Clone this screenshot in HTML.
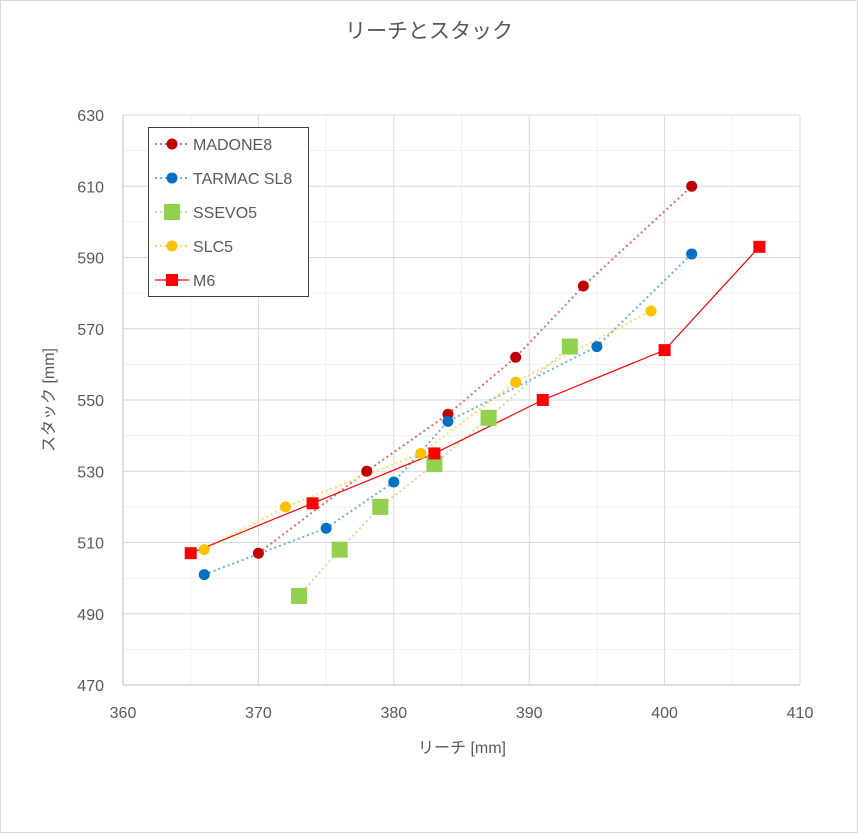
<!DOCTYPE html><html><head><meta charset="utf-8"><style>body{margin:0;background:#fff}svg{display:block}</style></head><body>
<svg id="s" width="858" height="833" xmlns="http://www.w3.org/2000/svg" font-family="Liberation Sans, 'Noto Sans CJK JP', sans-serif">
<rect x="0.5" y="0.5" width="857" height="832" fill="#fff" stroke="#d9d9d9"/>
<text x="429" y="38" font-size="21" fill="#595959" text-anchor="middle">リーチとスタック</text>
<text x="462" y="753" font-size="16" fill="#595959" text-anchor="middle">リーチ [mm]</text>
<text x="54" y="400" font-size="16" fill="#595959" text-anchor="middle" transform="rotate(-90 54 400)">スタック [mm]</text>
<g id="g"></g>
</svg>
<script>
const X=v=>123+(v-360)*13.54, Y=v=>685-(v-470)*3.5625;
let h='';
for(let v=365;v<410;v+=10)h+=`<line x1="${X(v)}" y1="115" x2="${X(v)}" y2="685" stroke="#f0f0f0"/>`;
for(let v=480;v<630;v+=20)h+=`<line x1="123" y1="${Y(v)}" x2="800" y2="${Y(v)}" stroke="#f0f0f0"/>`;
for(let v=370;v<=410;v+=10)h+=`<line x1="${X(v)}" y1="115" x2="${X(v)}" y2="685" stroke="#d9d9d9"/>`;
for(let v=490;v<=630;v+=20)h+=`<line x1="123" y1="${Y(v)}" x2="800" y2="${Y(v)}" stroke="#d9d9d9"/>`;
h+=`<line x1="123" y1="685" x2="800" y2="685" stroke="#bfbfbf"/><line x1="123" y1="115" x2="123" y2="685" stroke="#bfbfbf"/>`;
for(let v=360;v<=410;v+=10)h+=`<text x="${X(v)}" y="718" font-size="16" fill="#595959" text-anchor="middle">${v}</text>`;
for(let v=470;v<=630;v+=20)h+=`<text x="104" y="${Y(v)+6}" font-size="16" fill="#595959" text-anchor="end">${v}</text>`;
const S=[
["MADONE8","#C00000","#e07070",1,"c",[[370,507],[378,530],[384,546],[389,562],[394,582],[402,610]]],
["TARMAC SL8","#0070C0","#6fb0e0",1,"c",[[366,501],[375,514],[380,527],[384,544],[395,565],[402,591]]],
["SSEVO5","#92D050","#c3e4a0",1,"s",[[373,495],[376,508],[379,520],[383,532],[387,545],[393,565]]],
["SLC5","#FFC000","#ffd966",1,"c",[[366,508],[372,520],[382,535],[389,555],[399,575]]],
["M6","#FF0000","#FF0000",0,"q",[[365,507],[374,521],[383,535],[391,550],[400,564],[407,593]]]];
function mk(t,x,y,c){if(t=="c")return `<circle cx="${x}" cy="${y}" r="5.5" fill="${c}"/>`;
 let r=t=="s"?8:6;return `<rect x="${x-r}" y="${y-r}" width="${2*r}" height="${2*r}" fill="${c}"/>`;}
S.forEach(s=>{let p=s[5].map(q=>X(q[0])+','+Y(q[1])).join(' ');
h+=`<polyline points="${p}" fill="none" stroke="${s[2]}" ${s[3]?'stroke-width="2" stroke-dasharray="2 3"':'stroke-width="1.2"'}/>`;});
S.forEach(s=>s[5].forEach(q=>h+=mk(s[4],X(q[0]),Y(q[1]),s[1])));
h+=`<rect x="148.5" y="127.5" width="160" height="169" fill="#fff" stroke="#404040"/>`;
S.forEach((s,i)=>{let y=144+i*34;
h+=`<line x1="155" y1="${y}" x2="189" y2="${y}" stroke="${s[2]}" ${s[3]?'stroke-width="2" stroke-dasharray="2 3"':'stroke-width="1.2"'}/>`+mk(s[4],172,y,s[1])+
`<text x="193" y="${y+6}" font-size="16" fill="#595959">${s[0]}</text>`;});
document.getElementById('g').innerHTML=h;
</script></body></html>
